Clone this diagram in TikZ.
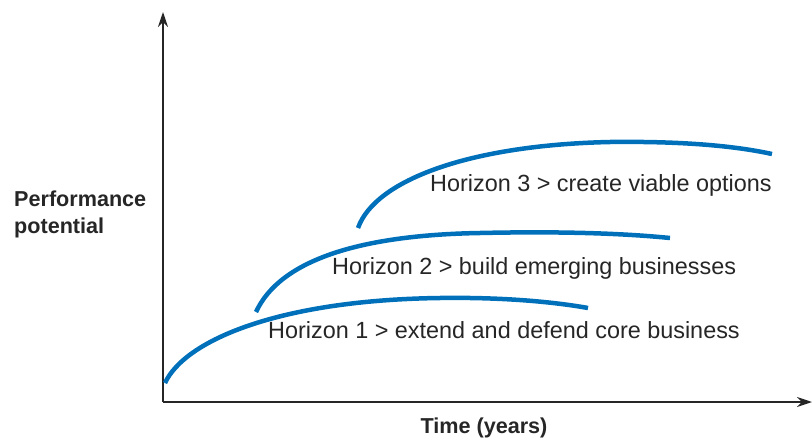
\documentclass[tikz,border=0pt]{standalone}
\usepackage{fontspec}
\setmainfont{Liberation Sans}
\usetikzlibrary{arrows.meta, positioning}
\definecolor{horizonblue}{RGB}{0,112,186}

\begin{document}
\begin{tikzpicture}[x=1pt, y=-1pt,
    every node/.style={font=\fontsize{23.4}{27}\selectfont, inner sep=0pt},
    axis/.style={line width=1.7pt, black!85, -{Stealth[length=15pt, width=10pt]}},
    horizon/.style={line width=4.5pt, horizonblue},
    label/.style={anchor=west, text=black!85},
    axislabel/.style={font=\fontsize{21.6}{27}\selectfont\bfseries, text=black!85}]
    \useasboundingbox (0,0) rectangle (812,439);

    % Axes
    \coordinate (origin) at (163,402);
    \coordinate (ytop) at (163,12);
    \coordinate (xend) at (812,402);
    \draw[axis] (origin) -- (ytop);
    \draw[axis] (origin) -- (xend);

    % Axis labels
    \node[axislabel, anchor=west, align=left] (perf) at (14,214) {Performance\\potential};
    \node[axislabel] (time) at (484,428) {Time (years)};

    % Horizon 1
    \draw[horizon] (165,383) .. controls (185,340) and (280,300) .. (440,298)
        .. controls (510,297) and (560,303) .. (588,308);
    \node[label] (h1) at (268,330) {Horizon 1 > extend and defend core business};

    % Horizon 2
    \draw[horizon] (256,312) .. controls (280,260) and (360,235) .. (480,233)
        .. controls (570,231) and (630,234) .. (670,238);
    \node[label] (h2) at (332,268) {Horizon 2 > build emerging businesses};

    % Horizon 3
    \draw[horizon] (358,228) .. controls (375,180) and (470,145) .. (610,142)
        .. controls (690,141) and (740,147) .. (772,154);
    \node[label] (h3) at (430,185) {Horizon 3 > create viable options};
\end{tikzpicture}
\end{document}
